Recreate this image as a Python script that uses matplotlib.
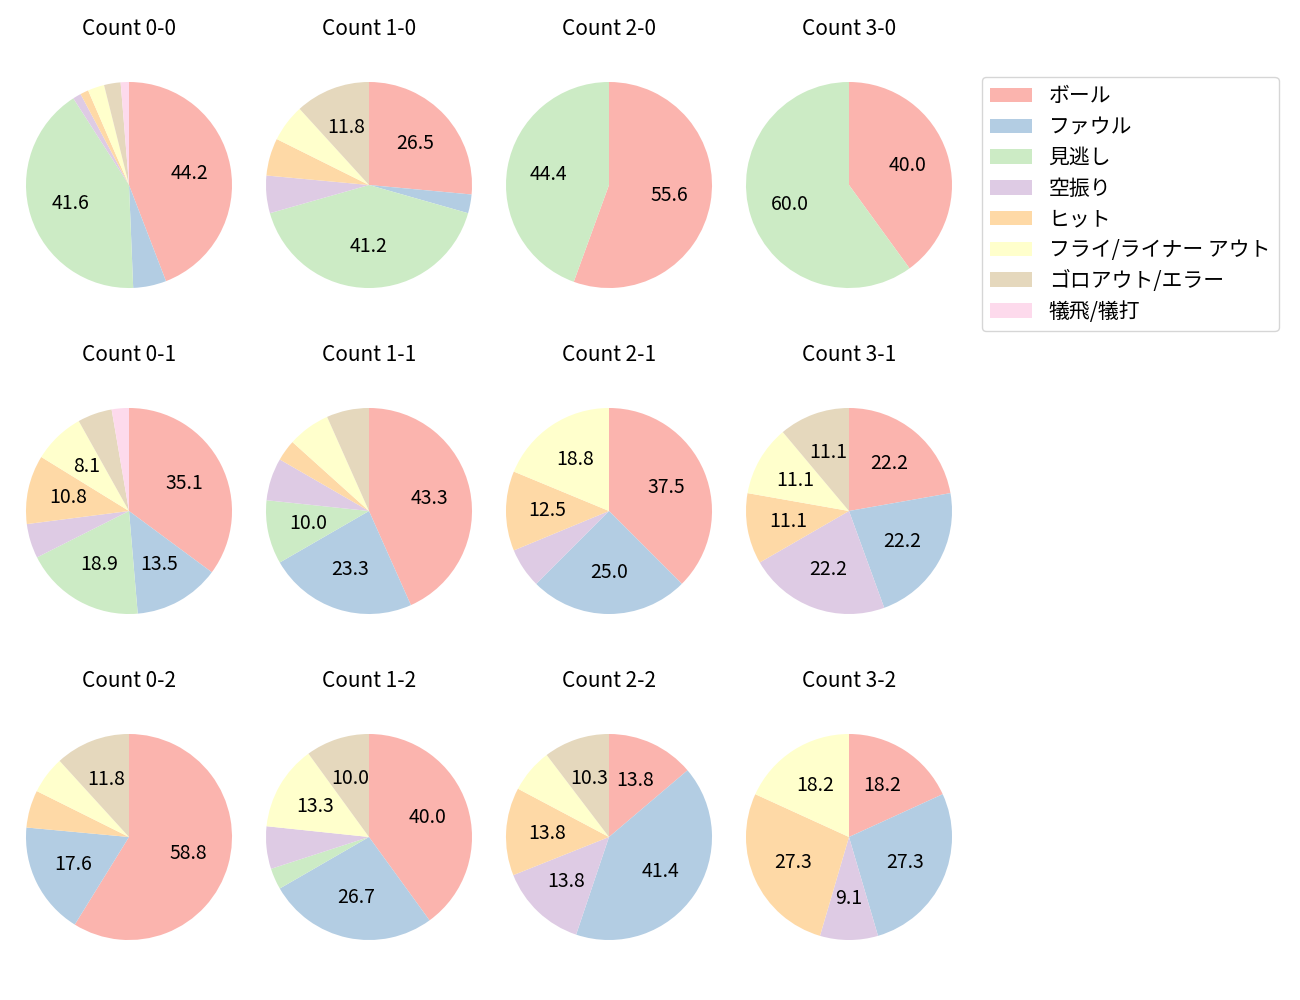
import matplotlib
matplotlib.use('Agg')
import matplotlib.pyplot as plt
from matplotlib.patches import Patch

plt.rcParams['font.family'] = ['Noto Sans CJK JP', 'DejaVu Sans']

categories = ['ボール', 'ファウル', '見逃し', '空振り', 'ヒット',
              'フライ/ライナー アウト', 'ゴロアウト/エラー', '犠飛/犠打']
colors = ['#fbb4ae', '#b3cde3', '#ccebc5', '#decbe4', '#fed9a6',
          '#ffffcc', '#e5d8bd', '#fddaec']

# pitch counts per result, order as in categories
count_0_0 = [34, 4, 32, 1, 1, 2, 2, 1]
count_1_0 = [9, 1, 14, 2, 2, 2, 4, 0]
count_2_0 = [5, 0, 4, 0, 0, 0, 0, 0]
count_3_0 = [2, 0, 3, 0, 0, 0, 0, 0]
count_0_1 = [13, 5, 7, 2, 4, 3, 2, 1]
count_1_1 = [13, 7, 3, 2, 1, 2, 2, 0]
count_2_1 = [6, 4, 0, 1, 2, 3, 0, 0]
count_3_1 = [2, 2, 0, 2, 1, 1, 1, 0]
count_0_2 = [10, 3, 0, 0, 1, 1, 2, 0]
count_1_2 = [12, 8, 1, 2, 0, 4, 3, 0]
count_2_2 = [4, 12, 0, 4, 4, 2, 3, 0]
count_3_2 = [2, 3, 0, 1, 3, 2, 0, 0]

titles = [['Count 0-0', 'Count 1-0', 'Count 2-0', 'Count 3-0'],
          ['Count 0-1', 'Count 1-1', 'Count 2-1', 'Count 3-1'],
          ['Count 0-2', 'Count 1-2', 'Count 2-2', 'Count 3-2']]
data = [[count_0_0, count_1_0, count_2_0, count_3_0],
        [count_0_1, count_1_1, count_2_1, count_3_1],
        [count_0_2, count_1_2, count_2_2, count_3_2]]


def pct_label(p):
    return '{:.1f}'.format(p) if p >= 7 else ''


W, H = 1300, 1000
fig = plt.figure(figsize=(13, 10), dpi=100)

side = 290
for r in range(3):
    for c in range(4):
        cx = 129 + 240 * c
        cy = 185 + 326 * r
        ax = fig.add_axes([(cx - side / 2) / W, 1 - (cy + side / 2) / H, side / W, side / H])
        ax.pie(data[r][c], colors=colors, startangle=90, counterclock=False,
               autopct=pct_label, radius=0.888, textprops={'fontsize': 14})
        ax.set_title(titles[r][c], fontsize=15, pad=1)

handles = [Patch(facecolor=col, label=lab) for col, lab in zip(colors, categories)]
fig.legend(handles=handles, loc='upper left', bbox_to_anchor=(982 / W, 1 - 77 / H),
           borderaxespad=0, fontsize=15, handlelength=2.0, handletextpad=0.8,
           borderpad=0.4, labelspacing=0.42)

fig.savefig('out.png', dpi=100)
